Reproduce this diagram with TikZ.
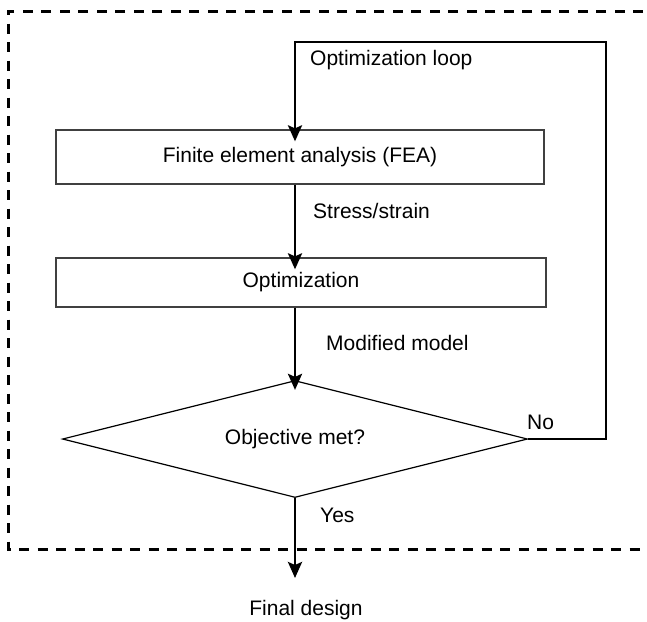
\documentclass[tikz,border=0pt]{standalone}
\usepackage{fontspec}
\setmainfont{Liberation Sans}
\usetikzlibrary{shapes.geometric,arrows.meta}
\newcommand\diagfont{\fontsize{21}{25}\selectfont}
\begin{document}
\begin{tikzpicture}[x=1pt,y=-1pt,
  frame/.style={line width=3pt,dash pattern=on 10pt off 8.5pt},
  box/.style={draw=black!75,line width=1.3pt,inner sep=0pt,font=\diagfont},
  dia/.style={draw=black,line width=1.2pt,diamond,aspect=4,inner sep=0pt,
    minimum width=465pt,minimum height=117pt,font=\diagfont},
  arr/.style={line width=2.8pt,-{Stealth[length=16pt,width=14pt,inset=3pt]}},
  lbl/.style={inner sep=0pt,anchor=west,font=\diagfont},
  txt/.style={inner sep=0pt,font=\diagfont}]
\useasboundingbox (0,0) rectangle (647,621);
\clip (0,0) rectangle (647,621);
% dashed frame
\draw[frame] (680,11) -- (8,11) -- (8,549) -- (680,549);
% nodes
\node[box,minimum width=488pt,minimum height=54pt] (fea) at (300,157) {Finite element analysis (FEA)};
\node[box,minimum width=490pt,minimum height=49pt] (opt) at (301,282.5) {Optimization};
\node[dia] (obj) at (295,439) {Objective met?};
\node[txt] (fd) at (306,610) {Final design};
% labels
\node[lbl] (l1) at (310,60) {Optimization loop};
\node[lbl] (l2) at (313,211) {Stress/strain};
\node[lbl] (l3) at (326,343) {Modified model};
\node[lbl] (l4) at (527,422) {No};
\node[lbl] (l5) at (320,515) {Yes};
% coordinates
\coordinate (rx) at (606,42);
\coordinate (lt) at (295,42);
\coordinate (fin) at (295,578);
% connectors
\draw[arr,shorten >=-12pt] (obj.east) -| (rx) -- (lt) -- (lt |- fea.north);
\draw[arr,shorten >=-12pt] (fea.south -| lt) -- (opt.north -| lt);
\draw[arr,shorten >=-10pt] (opt.south -| lt) -- (obj.north);
\draw[arr] (obj.south) -- (fin);
\end{tikzpicture}
\end{document}
